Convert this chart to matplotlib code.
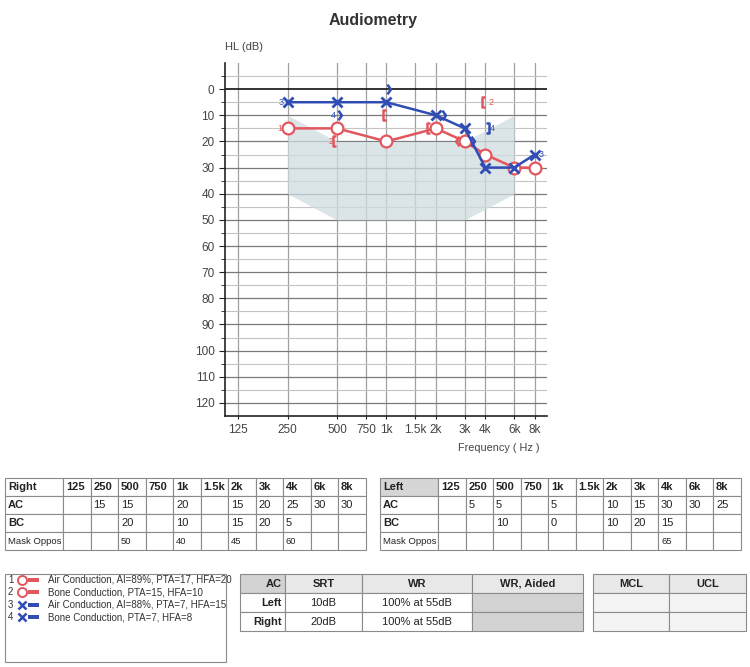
import matplotlib.pyplot as plt
import matplotlib.transforms as mtransforms
from matplotlib.patches import Rectangle
from matplotlib.ticker import NullLocator

plt.rcParams['font.family'] = ['Liberation Sans', 'DejaVu Sans']

RED = '#e2575e'
BLUE = '#2f4db4'

freqs = [125, 250, 500, 750, 1000, 1500, 2000, 3000, 4000, 6000, 8000]
freq_labels = ['125', '250', '500', '750', '1k', '1.5k', '2k', '3k', '4k', '6k', '8k']

# None = not tested
right_ac = [None, 15, 15, None, 20, None, 15, 20, 25, 30, 30]
right_bc = [None, None, 20, None, 10, None, 15, 20, 5, None, None]
right_mask = [None, None, 50, None, 40, None, 45, None, 60, None, None]
left_ac = [None, 5, 5, None, 5, None, 10, 15, 30, 30, 25]
left_bc = [None, None, 10, None, 0, None, 10, 20, 15, None, None]
left_mask = [None, None, None, None, None, None, None, None, 65, None, None]

# shaded speech area
speech_freqs = [250, 500, 3000, 6000]
speech_top = [10, 20, 20, 10]
speech_bottom = [40, 50, 50, 40]

legend_labels = ['Air Conduction, AI=89%, PTA=17, HFA=20',
                 'Bone Conduction, PTA=15, HFA=10',
                 'Air Conduction, AI=88%, PTA=7, HFA=15',
                 'Bone Conduction, PTA=7, HFA=8']
legend_colors = [RED, RED, BLUE, BLUE]
legend_markers = ['o', 'o', 'x', 'x']

srt_header = ['AC', 'SRT', 'WR', 'WR, Aided']
srt_rows = [['Left', '10dB', '100% at 55dB', ''],
            ['Right', '20dB', '100% at 55dB', '']]
mcl_header = ['MCL', 'UCL']

# bone conduction symbols
BRACKET_L = [(0, 1), (-0.55, 1), (-0.55, -1), (0, -1)]
CHEVRON_L = [(0, 1), (-0.7, 0), (0, -1)]
CHEVRON_R = [(0, 1), (0.7, 0), (0, -1)]
BRACKET_R = [(0, 1), (0.55, 1), (0.55, -1), (0, -1)]


def pts(vals):
    xs = [f for f, v in zip(freqs, vals) if v is not None]
    ys = [v for v in vals if v is not None]
    return xs, ys


fig = plt.figure(figsize=(7.5, 6.67), dpi=100)
ax = fig.add_axes([225 / 750, 1 - 416 / 667, 322 / 750, 353 / 667])
ax.set_xscale('log', base=2)
ax.set_xlim(104, 9500)
ax.set_ylim(125, -10)

for f in freqs:
    ax.axvline(f, color='#a0a0a0', lw=0.9, zorder=1)
for v in range(-5, 125, 5):
    if v == 0:
        ax.axhline(v, color='#111111', lw=1.2, zorder=1)
    elif v % 10 == 0:
        ax.axhline(v, color='#7a7a7a', lw=0.9, zorder=1)
    else:
        ax.axhline(v, color='#c4c4c4', lw=0.8, zorder=1)

ax.fill_between(speech_freqs, speech_top, speech_bottom, color='#cfdbe0',
                alpha=0.75, lw=0, zorder=2)

x, y = pts(right_ac)
ax.plot(x, y, color=RED, lw=1.8, marker='o', ms=8.5, mfc='white', mec=RED,
        mew=1.6, zorder=4)
x, y = pts(left_ac)
ax.plot(x, y, color=BLUE, lw=1.8, marker='x', ms=7, mew=2, zorder=5)

for bc, mask, side, color in [(right_bc, right_mask, -1, RED),
                              (left_bc, left_mask, 1, BLUE)]:
    for i, v in enumerate(bc):
        if v is None:
            continue
        if side < 0:
            verts = BRACKET_L if mask[i] is not None else CHEVRON_L
        else:
            verts = BRACKET_R if mask[i] is not None else CHEVRON_R
        crowded = v in (right_ac[i], left_ac[i])
        dx = side * (4.5 if crowded else 0.5) / 72
        tr = ax.transData + mtransforms.ScaledTranslation(dx, 0, fig.dpi_scale_trans)
        ax.plot([freqs[i]], [v], marker=verts, ms=7, mfc='none', mec=color,
                mew=1.8, ls='none', transform=tr, zorder=6)

# series numbers next to first / last symbol
x, y = pts(right_ac)
ax.annotate('1', (x[0], y[0]), xytext=(-3.5, 0), textcoords='offset points',
            ha='right', va='center', fontsize=6.5, color=RED, zorder=7)
x, y = pts(right_bc)
ax.annotate('2', (x[0], y[0]), xytext=(-2.5, 0), textcoords='offset points',
            ha='right', va='center', fontsize=6.5, color=RED, zorder=7)
ax.annotate('2', (x[-1], y[-1]), xytext=(2.5, 0), textcoords='offset points',
            ha='left', va='center', fontsize=6.5, color=RED, zorder=7)
x, y = pts(left_ac)
ax.annotate('3', (x[0], y[0]), xytext=(-3, 0), textcoords='offset points',
            ha='right', va='center', fontsize=6.5, color=BLUE, zorder=7)
ax.annotate('3', (x[-1], y[-1]), xytext=(3, 0), textcoords='offset points',
            ha='left', va='center', fontsize=6.5, color=BLUE, zorder=7)
x, y = pts(left_bc)
ax.annotate('4', (x[0], y[0]), xytext=(-1, 0), textcoords='offset points',
            ha='right', va='center', fontsize=6.5, color=BLUE, zorder=7)
ax.annotate('4', (x[-1], y[-1]), xytext=(3, 0), textcoords='offset points',
            ha='left', va='center', fontsize=6.5, color=BLUE, zorder=7)

ax.set_xticks(freqs, labels=freq_labels)
ax.xaxis.set_minor_locator(NullLocator())
ax.set_yticks(range(0, 121, 10))
ax.set_yticks(range(-5, 125, 10), minor=True)
ax.tick_params(axis='both', which='both', labelsize=8.5, labelcolor='#444444',
               color='#222222', direction='out')
ax.tick_params(axis='y', which='major', length=4)
ax.tick_params(axis='y', which='minor', length=3)
ax.tick_params(axis='x', length=2, pad=4)
for s in ['top', 'right']:
    ax.spines[s].set_visible(False)
for s in ['left', 'bottom']:
    ax.spines[s].set_color('#222222')
    ax.spines[s].set_linewidth(1.2)

fig.text(373 / 750, 1 - 20 / 667, 'Audiometry', ha='center', va='center',
         fontsize=11.5, fontweight='bold', color='#333333')
fig.text(225 / 750, 1 - 47 / 667, 'HL (dB)', ha='left', va='center',
         fontsize=8, color='#444444')
fig.text(540 / 750, 1 - 448 / 667, 'Frequency ( Hz )', ha='right', va='center',
         fontsize=7.8, color='#444444')

# overlay in pixel coordinates for the tables and legend
ov = fig.add_axes([0, 0, 1, 1])
ov.set_xlim(0, 750)
ov.set_ylim(667, 0)
ov.axis('off')


def cell(x0, y0, w, h, text='', bold=False, size=8, ha='left', fc='white'):
    ov.add_patch(Rectangle((x0, y0), w, h, fc=fc, ec='#8a8a8a', lw=0.8))
    if text:
        if ha == 'left':
            tx = x0 + 3
        elif ha == 'center':
            tx = x0 + w / 2
        else:
            tx = x0 + w - 3
        ov.text(tx, y0 + h / 2 + 0.5, text, ha=ha, va='center', fontsize=size,
                fontweight='bold' if bold else 'normal', color='#222222')


def fmt(v):
    return '' if v is None else str(v)


def audio_table(x0, title, ac, bc, mask, title_fc):
    widths = [58] + [27.5] * 11
    rows = [[title] + freq_labels,
            ['AC'] + [fmt(v) for v in ac],
            ['BC'] + [fmt(v) for v in bc],
            ['Mask Oppos'] + [fmt(v) for v in mask]]
    y0 = 478
    for r, row in enumerate(rows):
        xx = x0
        for c, txt in enumerate(row):
            bold = r == 0 or (c == 0 and r < 3)
            size = 6.8 if r == 3 else 8
            fc = title_fc if (r == 0 and c == 0) else 'white'
            cell(xx, y0, widths[c], 18, txt, bold=bold, size=size, fc=fc)
            xx += widths[c]
        y0 += 18


audio_table(5, 'Right', right_ac, right_bc, right_mask, 'white')
audio_table(380, 'Left', left_ac, left_bc, left_mask, '#d6d6d6')

# SRT / WR table
srt_x = [240, 285, 362, 472, 583]
row_y = [574, 593, 612, 631]
for c, txt in enumerate(srt_header):
    fc = '#d2d2d2' if c == 0 else '#e8e8e8'
    cell(srt_x[c], row_y[0], srt_x[c + 1] - srt_x[c], row_y[1] - row_y[0], txt,
         bold=True, ha='right' if c == 0 else 'center', fc=fc)
for r, row in enumerate(srt_rows):
    for c, txt in enumerate(row):
        fc = '#d2d2d2' if c == 3 else 'white'
        cell(srt_x[c], row_y[r + 1], srt_x[c + 1] - srt_x[c],
             row_y[r + 2] - row_y[r + 1], txt, bold=(c == 0),
             ha='right' if c == 0 else 'center', fc=fc)

mcl_x = [593, 669, 746]
for c, txt in enumerate(mcl_header):
    cell(mcl_x[c], row_y[0], mcl_x[c + 1] - mcl_x[c], row_y[1] - row_y[0], txt,
         bold=True, ha='center', fc='#e8e8e8')
    for r in range(2):
        cell(mcl_x[c], row_y[r + 1], mcl_x[c + 1] - mcl_x[c],
             row_y[r + 2] - row_y[r + 1], fc='#f4f4f4')

# legend box
ov.add_patch(Rectangle((5, 574), 221, 88, fc='white', ec='#8a8a8a', lw=0.8))
for i, lab in enumerate(legend_labels):
    yy = 580 + i * 12.4
    col = legend_colors[i]
    ov.text(8, yy, str(i + 1), ha='left', va='center', fontsize=7, color='#333333')
    if legend_markers[i] == 'o':
        ov.plot([21.5], [yy], marker='o', ms=6.5, mfc='white', mec=col, mew=1.4)
    else:
        ov.plot([21.5], [yy], marker='x', ms=5.5, mec=col, mew=1.8)
    ov.add_patch(Rectangle((28, yy - 2), 11, 4, fc=col, ec='none'))
    ov.text(48, yy, lab, ha='left', va='center', fontsize=7, color='#333333')

fig.savefig('out.png', dpi=100, facecolor='white')
